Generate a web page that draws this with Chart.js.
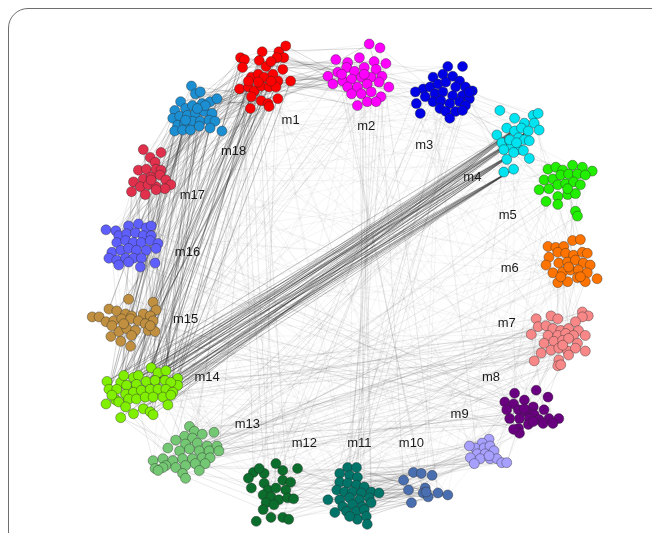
<!DOCTYPE html>
<html>
<head>
<meta charset="utf-8">
<script src="https://cdn.jsdelivr.net/npm/chart.js@4.4.1/dist/chart.umd.min.js"></script>
<style>
  html, body { margin:0; padding:0; background:#fff; overflow:hidden; }
  #wrap { position:relative; width:652px; height:533px; }
  #frame { position:absolute; left:8px; top:8px; width:720px; height:620px; border:1.5px solid #6e6e6e; border-radius:20px; pointer-events:none; box-sizing:border-box; }
  canvas { position:absolute; left:0; top:0; }
</style>
</head>
<body>
<div id="wrap">
<canvas id="c" width="652" height="533"></canvas>
<div id="frame"></div>
</div>
<script>
// ---- data ----
const clusterNames = ['m1','m2','m3','m4','m5','m6','m7','m8','m9','m10','m11','m12','m13','m14','m15','m16','m17','m18'];
const clusterColors = ['#ff0000','#ff00ff','#0000e6','#00e3f0','#22ee00','#ff7400','#f88888','#680080','#a8a0ff','#4a6fb0','#007468','#0b6e2c','#74c874','#80f000','#c09040','#5f5fff','#e0304c','#1c8ed2'];

const nodesM1 = [[239,53],[243,55],[241,63],[261,47],[278,47],[285,41],[283,53],[276,53],[258,56],[265,62],[270,57],[282,65],[290,77],[250,73],[257,70],[263,73],[272,70],[277,77],[238,85],[247,83],[253,87],[260,82],[268,83],[275,83],[250,93],[260,97],[267,100],[277,95],[249,105],[268,103],[257,78],[247,77],[270,77]];
const nodesM2 = [[370,39],[381,43],[336,55],[348,58],[360,53],[375,57],[387,59],[328,72],[338,68],[347,63],[355,67],[365,63],[377,65],[383,72],[333,80],[343,77],[352,75],[362,73],[372,73],[380,78],[348,83],[358,83],[368,80],[390,83],[352,90],[362,90],[372,88],[382,93],[358,102],[368,98],[377,98],[342,70],[365,70]];
const nodesM3 = [[450,62],[465,62],[435,73],[445,70],[455,72],[462,77],[425,85],[417,88],[432,83],[440,80],[448,78],[458,83],[468,83],[475,87],[427,93],[437,90],[445,88],[455,92],[465,92],[472,95],[418,100],[435,98],[443,97],[452,100],[462,98],[468,102],[422,110],[442,105],[448,108],[458,108],[465,107],[452,115],[472,88]];
const nodesM4 = [[503,107],[518,115],[537,112],[542,110],[528,120],[538,120],[543,127],[500,132],[510,125],[518,128],[525,125],[532,128],[505,140],[513,138],[522,135],[528,137],[533,138],[515,143],[523,147],[507,147],[517,150],[527,148],[510,157],[533,156],[507,170],[517,167],[513,137],[520,140]];
const nodesM5 = [[552,167],[560,165],[567,168],[577,163],[587,165],[597,169],[543,188],[548,178],[557,177],[565,173],[573,172],[582,172],[590,173],[553,187],[562,183],[570,182],[578,180],[585,183],[550,200],[562,195],[572,193],[580,192],[562,203],[580,210],[582,215],[572,187]];
const nodesM6 = [[552,246],[560,247],[568,246],[577,240],[585,239],[553,257],[562,252],[570,253],[578,255],[587,252],[592,253],[550,265],[563,263],[572,262],[580,260],[588,263],[595,265],[557,273],[567,272],[575,270],[583,270],[592,273],[562,283],[572,282],[582,278],[590,282],[602,279],[565,277],[585,277],[573,267]];
const nodesM7 = [[587,313],[593,317],[587,318],[540,320],[555,317],[562,320],[580,323],[542,328],[550,327],[557,330],[565,332],[573,330],[583,332],[535,336],[552,337],[562,337],[570,335],[578,337],[590,337],[548,345],[558,343],[567,342],[573,340],[582,345],[545,355],[555,352],[563,350],[572,353],[580,350],[590,353],[538,363],[563,362],[573,357],[562,368],[565,367],[567,347]];
const nodesM8 = [[518,396],[540,393],[552,400],[508,405],[517,407],[528,403],[537,410],[548,413],[510,413],[522,413],[530,415],[538,418],[513,422],[523,422],[533,422],[543,423],[553,422],[563,422],[522,432],[532,428],[547,427],[557,427],[523,437],[517,433],[528,412],[537,425]];
const nodesM9 = [[492,443],[485,447],[478,452],[472,450],[487,452],[493,450],[480,458],[488,458],[497,455],[473,462],[483,463],[493,463],[500,463],[477,468],[505,467],[510,467],[492,460]];
const nodesM10 = [[415,477],[423,478],[434,480],[405,485],[410,495],[427,493],[425,498],[430,502],[440,498],[450,500],[413,508],[428,497]];
const nodesM11 = [[348,472],[357,472],[340,478],[350,480],[358,482],[340,487],[348,488],[357,490],[365,492],[337,495],[345,497],[353,497],[362,498],[372,497],[380,498],[328,505],[340,505],[350,503],[360,505],[370,503],[343,512],[353,510],[363,512],[372,508],[335,518],[347,517],[357,517],[365,515],[358,525],[367,522],[350,522],[368,530]];
const nodesM12 = [[252,477],[263,478],[275,468],[282,475],[297,473],[247,483],[263,488],[282,485],[290,487],[250,493],[267,495],[275,493],[285,495],[262,500],[270,502],[278,505],[287,503],[293,504],[265,508],[273,510],[262,515],[270,523],[255,527],[282,523],[288,525],[258,473]];
const nodesM13 = [[187,430],[192,435],[212,436],[182,440],[190,442],[200,438],[173,444],[183,448],[195,447],[205,450],[215,450],[165,452],[177,455],[187,453],[197,455],[207,455],[217,455],[150,465],[160,463],[170,465],[180,463],[190,463],[200,462],[208,462],[152,473],[163,470],[173,472],[183,470],[193,468],[203,468],[180,478],[197,475],[183,483],[160,472],[155,475]];
const nodesM14 = [[103,384],[105,392],[117,385],[120,378],[130,380],[135,378],[148,370],[155,375],[163,373],[175,381],[175,388],[113,392],[123,388],[133,387],[143,384],[152,383],[162,383],[168,385],[102,407],[112,403],[122,397],[130,395],[138,393],[147,392],[155,392],[163,392],[170,395],[115,405],[125,402],[133,402],[142,400],[150,400],[160,400],[168,398],[165,408],[122,410],[117,421],[130,417],[140,412],[147,415],[150,418],[108,398]];
const nodesM15 = [[125,300],[150,303],[153,311],[88,318],[95,318],[105,310],[113,312],[122,315],[128,317],[140,315],[147,317],[150,322],[102,323],[110,322],[118,320],[127,320],[135,322],[142,325],[107,338],[115,333],[123,330],[132,332],[145,332],[152,333],[117,343],[128,337],[127,348],[108,327],[120,325],[147,327]];
const nodesM16 = [[102,229],[112,230],[125,225],[135,223],[143,227],[148,225],[115,235],[123,233],[132,232],[140,235],[148,235],[113,242],[122,240],[130,242],[138,242],[147,240],[155,243],[108,252],[117,250],[125,248],[133,250],[143,250],[153,248],[105,258],[113,260],[122,258],[130,258],[138,258],[115,265],[125,262],[137,267],[152,263]];
const nodesM17 = [[140,147],[158,150],[147,155],[152,160],[135,168],[143,167],[153,167],[158,168],[130,180],[140,177],[148,175],[157,173],[163,178],[168,183],[128,190],[137,185],[145,183],[153,185],[162,187],[142,193],[153,188],[148,178]];
const nodesM18 = [[189,82],[193,90],[198,88],[178,98],[172,107],[183,105],[190,102],[200,100],[208,98],[215,95],[170,115],[177,113],[185,112],[193,110],[202,108],[210,110],[175,122],[182,120],[190,118],[198,118],[207,117],[213,118],[172,128],[180,127],[188,127],[197,123],[208,125],[220,128],[203,102],[195,105],[183,117]];

const clusterNodes = [nodesM1,nodesM2,nodesM3,nodesM4,nodesM5,nodesM6,nodesM7,nodesM8,nodesM9,nodesM10,nodesM11,nodesM12,nodesM13,nodesM14,nodesM15,nodesM16,nodesM17,nodesM18];
const labelPositions = [[290,117],[367,123],[426,143],[475,175],[511,214],[513,268],[510,325],[494,380],[462,418],[413,447],[360,447],[304,447],[246,428],[205,380],[183,321],[185,252],[190,194],[232,149]];

// module-to-module link bundles: [from, to, number of links, strength]
const linkBundles = [
  [3,13,50,3],[0,13,22,3],[17,13,14,3],[0,17,30,2],[0,1,30,2],[17,16,14,2],[17,15,12,2],
  [0,16,10,2],[0,15,10,2],[17,14,10,2],[0,14,8,2],[16,15,8,1],[15,14,6,1],[14,13,8,1],
  [16,13,10,2],[10,9,25,2],[6,12,14,1],[6,13,10,1],[6,11,8,1],[7,12,8,1],[8,10,12,1],
  [8,11,8,1],[9,11,8,1],[11,10,8,1],[12,11,6,1],[13,12,8,1],[1,2,10,1],[2,3,6,1],
  [3,4,4,1],[1,10,8,1],[0,11,6,1],[2,11,4,1],[6,7,6,1],[7,8,6,1],[5,6,4,1],[4,5,4,1],
  [1,13,6,1],[0,12,5,1],[7,14,5,1],[7,15,5,1],[2,10,5,1],[3,12,5,1],[1,9,4,1],[4,12,4,1],[5,12,4,1]
];
const backgroundLinksPerPair = 2;
const withinLinksPerModule = 12;

// ---- build datasets ----
const datasets = [];
const strengthColor = {0:'rgba(120,120,120,0.07)', 1:'rgba(80,80,80,0.12)', 2:'rgba(55,55,55,0.19)', 3:'rgba(40,40,40,0.30)'};
function addLink(a, ia, b, ib, s) {
  const A = clusterNodes[a][ia % clusterNodes[a].length];
  const B = clusterNodes[b][ib % clusterNodes[b].length];
  datasets.push({
    type:'line', data:[{x:A[0],y:A[1]},{x:B[0],y:B[1]}],
    borderColor:strengthColor[s], borderWidth:1, pointRadius:0, pointHoverRadius:0,
    fill:false, tension:0, order:2, clip:false
  });
}
for (let a = 0; a < 18; a++) for (let b = a+1; b < 18; b++)
  for (let k = 0; k < backgroundLinksPerPair; k++) addLink(a, k*13 + b, b, k*17 + a*3, 0);
for (const [a,b,n,s] of linkBundles)
  for (let k = 0; k < n; k++) addLink(a, k*7 + b*3, b, k*5 + a*2 + 1, s);
for (let a = 0; a < 18; a++)
  for (let k = 0; k < withinLinksPerModule; k++) addLink(a, k*3, a, k*7 + 5, 1);

clusterNodes.forEach((nodes, i) => {
  datasets.push({
    type:'scatter', label:clusterNames[i],
    data:nodes.map(p => ({x:p[0], y:p[1]})),
    backgroundColor:clusterColors[i], borderColor:'rgba(40,40,40,0.5)', borderWidth:0.8,
    pointRadius:5, pointHoverRadius:5, order:0, clip:false
  });
});

const labelPlugin = {
  id:'moduleLabels',
  afterDatasetsDraw(chart) {
    const ctx = chart.ctx, xs = chart.scales.x, ys = chart.scales.y;
    ctx.save();
    ctx.font = '13px "Liberation Sans", Arial, sans-serif';
    ctx.fillStyle = '#1a1a1a';
    ctx.textAlign = 'center';
    ctx.textBaseline = 'middle';
    clusterNames.forEach((n, i) => {
      ctx.fillText(n, xs.getPixelForValue(labelPositions[i][0]), ys.getPixelForValue(labelPositions[i][1]));
    });
    ctx.restore();
  }
};

new Chart(document.getElementById('c'), {
  type:'scatter',
  data:{datasets},
  options:{
    responsive:false, animation:false, events:[],
    layout:{padding:0},
    plugins:{legend:{display:false}, tooltip:{enabled:false}},
    scales:{
      x:{type:'linear', min:0, max:652, display:false},
      y:{type:'linear', min:0, max:533, reverse:true, display:false}
    }
  },
  plugins:[labelPlugin]
});
</script>
</body>
</html>
